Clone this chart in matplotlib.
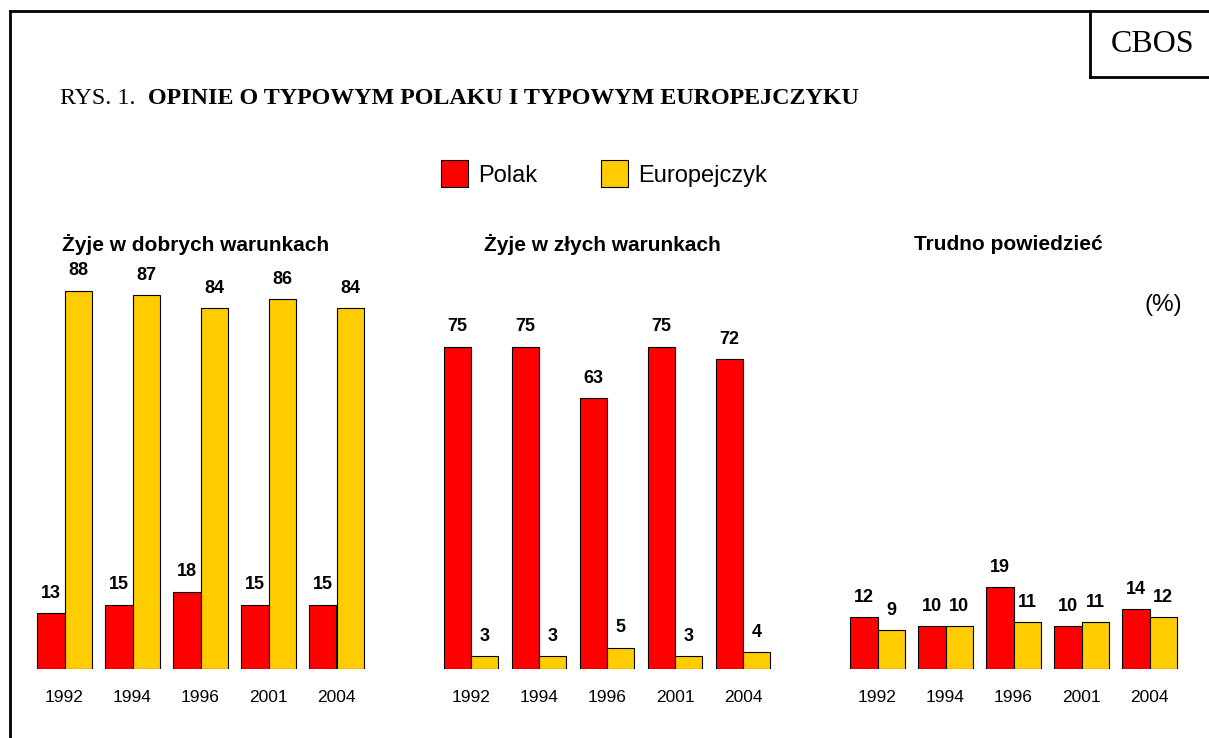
import matplotlib
matplotlib.use("Agg")
import matplotlib.pyplot as plt
import numpy as np
from matplotlib.lines import Line2D

# data
years = ["1992", "1994", "1996", "2001", "2004"]
panel_titles = ["Żyje w dobrych warunkach", "Żyje w złych warunkach", "Trudno powiedzieć"]
polak = [
    [13, 15, 18, 15, 15],
    [75, 75, 63, 75, 72],
    [12, 10, 19, 10, 14],
]
europejczyk = [
    [88, 87, 84, 86, 84],
    [3, 3, 5, 3, 4],
    [9, 10, 11, 11, 12],
]
series_names = ["Polak", "Europejczyk"]
colors = ["#FF0000", "#FFCC00"]

W, H = 1209, 738
fig = plt.figure(figsize=(W / 100, H / 100), dpi=100)
sans = "Liberation Sans"
serif = "Liberation Serif"


def px_box(x0, y_top, w, h):
    # pixel box (from top-left) -> figure fraction rect
    return [x0 / W, 1 - (y_top + h) / H, w / W, h / H]


def fx(x):
    return x / W


def fy(y):
    return 1 - y / H


# frame lines
fig.add_artist(Line2D([fx(10), fx(1209)], [fy(11), fy(11)], color="black", lw=2))
fig.add_artist(Line2D([fx(10), fx(10)], [fy(11), fy(738)], color="black", lw=2))
fig.add_artist(Line2D([fx(1090), fx(1090)], [fy(11), fy(77)], color="black", lw=2))
fig.add_artist(Line2D([fx(1090), fx(1209)], [fy(77), fy(77)], color="black", lw=2))
fig.text(fx(1153), fy(44), "CBOS", family=serif, fontsize=23, ha="center", va="center")

# title
t1 = fig.text(fx(60), fy(98), "RYS. 1.  ", family=serif, fontsize=17.3, ha="left", va="center")
fig.canvas.draw()
bb = t1.get_window_extent()
fig.text(bb.x1 / W, fy(98), "OPINIE O TYPOWYM POLAKU I TYPOWYM EUROPEJCZYKU",
         family=serif, fontsize=17.3, fontweight="bold", ha="left", va="center")

# legend
for (sx, tx), name, c in zip([(441, 478), (601, 638)], series_names, colors):
    fig.add_artist(plt.Rectangle((fx(sx), fy(187)), 27 / W, 27 / H, transform=fig.transFigure,
                                 facecolor=c, edgecolor="black", lw=0.8))
    fig.text(fx(tx), fy(176), name, family=sans, fontsize=17, ha="left", va="center")

fig.text(fx(1163), fy(305), "(%)", family=sans, fontsize=17.5, ha="center", va="center")

x = np.arange(len(years))
bw = 0.4
base_y = 669
scale = 4.3  # px per percent
lefts = [30.5, 437, 843.5]
for i in range(3):
    ax = fig.add_axes(px_box(lefts[i], base_y - 100 * scale, 340, 100 * scale))
    b1 = ax.bar(x - bw / 2, polak[i], bw, color=colors[0], edgecolor="black", lw=0.8)
    b2 = ax.bar(x + bw / 2, europejczyk[i], bw, color=colors[1], edgecolor="black", lw=0.8)
    for bars in (b1, b2):
        ax.bar_label(bars, padding=8, fontsize=13, fontweight="bold", family=sans)
    ax.set_xlim(-0.5, 4.5)
    ax.set_ylim(0, 100)
    ax.axis("off")
    for xi, yr in zip(x, years):
        ax.text(xi, -6.7, yr, ha="center", va="center", fontsize=12.5, family=sans,
                transform=ax.transData, clip_on=False)
    fig.text(fx(lefts[i] + 170 - 5), fy(245), panel_titles[i], family=sans, fontsize=15,
             fontweight="bold", ha="center", va="center")

fig.savefig("out.png", dpi=100)
